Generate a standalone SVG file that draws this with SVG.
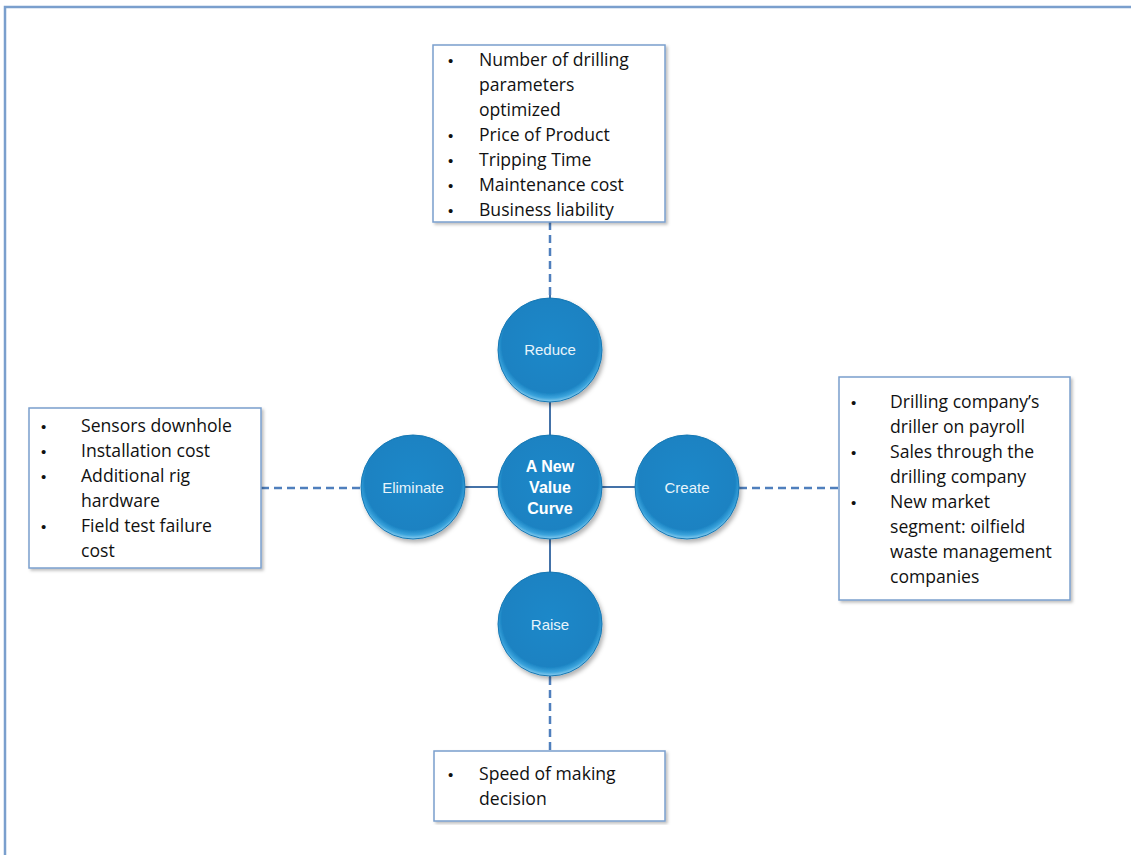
<svg xmlns="http://www.w3.org/2000/svg" width="1131" height="855" viewBox="0 0 1131 855">
<defs>
<radialGradient id="ball" cx="50%" cy="45%" r="55%">
<stop offset="0%" stop-color="#1e88c9"/>
<stop offset="84%" stop-color="#1a82c2"/>
<stop offset="93%" stop-color="#3aa3dc"/>
<stop offset="100%" stop-color="#8fd0f0"/>
</radialGradient>
<filter id="sh" x="-20%" y="-20%" width="140%" height="140%">
<feDropShadow dx="2" dy="3" stdDeviation="2" flood-color="#000" flood-opacity="0.3"/>
</filter>
<filter id="bsh" x="-5%" y="-5%" width="110%" height="110%">
<feDropShadow dx="2" dy="2" stdDeviation="1.5" flood-color="#000" flood-opacity="0.25"/>
</filter>
</defs>
<style>
.box{fill:#fff;stroke:#7a9fcd;stroke-width:1.5;filter:url(#bsh)}
.t{font-family:"Open Sans","Liberation Sans",sans-serif;font-size:17.6px;fill:#111}
.b{font-family:"Liberation Sans",sans-serif;font-size:15px;fill:#111}
.c{fill:url(#ball);stroke:#1677b3;stroke-width:1;filter:url(#sh)}
.cl{font-family:"Liberation Sans",Arial,sans-serif;font-size:15px;fill:#e8f4fb;text-anchor:middle}
.cb{font-family:"Liberation Sans",Arial,sans-serif;font-size:16px;font-weight:bold;fill:#fff;text-anchor:middle}
.solid{stroke:#4472a8;stroke-width:2;fill:none}
.dash{stroke:#4f7fbd;stroke-width:2.5;stroke-dasharray:8 5;fill:none}
</style>
<rect x="0" y="0" width="1131" height="855" fill="#fff"/>
<path d="M5 855 V7 H1131" fill="none" stroke="#7a9fcd" stroke-width="2.5"/>
<g id="connectors">
<line class="solid" x1="550" y1="290" x2="550" y2="680"/>
<line class="solid" x1="413" y1="487" x2="687" y2="487"/>
<line class="dash" x1="550" y1="222" x2="550" y2="297"/>
<line class="dash" x1="261" y1="488" x2="361" y2="488"/>
<line class="dash" x1="739" y1="488" x2="839" y2="488"/>
<line class="dash" x1="550" y1="677" x2="550" y2="751"/>
</g>
<g id="box-reduce">
<rect class="box" x="433" y="45" width="232" height="177"/>
<text class="b" x="448" y="66">•</text><text class="t" x="479" y="66">Number of drilling</text>
<text class="t" x="479" y="91">parameters</text>
<text class="t" x="479" y="116">optimized</text>
<text class="b" x="448" y="141">•</text><text class="t" x="479" y="141">Price of Product</text>
<text class="b" x="448" y="166">•</text><text class="t" x="479" y="166">Tripping Time</text>
<text class="b" x="448" y="191">•</text><text class="t" x="479" y="191">Maintenance cost</text>
<text class="b" x="448" y="216">•</text><text class="t" x="479" y="216">Business liability</text>
</g>
<g id="box-eliminate">
<rect class="box" x="29" y="408" width="232" height="160"/>
<text class="b" x="41" y="432">•</text><text class="t" x="81" y="432">Sensors downhole</text>
<text class="b" x="41" y="457">•</text><text class="t" x="81" y="457">Installation cost</text>
<text class="b" x="41" y="482">•</text><text class="t" x="81" y="482">Additional rig</text>
<text class="t" x="81" y="507">hardware</text>
<text class="b" x="41" y="532">•</text><text class="t" x="81" y="532">Field test failure</text>
<text class="t" x="81" y="557">cost</text>
</g>
<g id="box-create">
<rect class="box" x="839" y="377" width="231" height="223"/>
<text class="b" x="851" y="408">•</text><text class="t" x="890" y="408">Drilling company’s</text>
<text class="t" x="890" y="433">driller on payroll</text>
<text class="b" x="851" y="458">•</text><text class="t" x="890" y="458">Sales through the</text>
<text class="t" x="890" y="483">drilling company</text>
<text class="b" x="851" y="508">•</text><text class="t" x="890" y="508">New market</text>
<text class="t" x="890" y="533">segment: oilfield</text>
<text class="t" x="890" y="558">waste management</text>
<text class="t" x="890" y="583">companies</text>
</g>
<g id="box-raise">
<rect class="box" x="434" y="751" width="231" height="70"/>
<text class="b" x="448" y="780">•</text><text class="t" x="479" y="780">Speed of making</text>
<text class="t" x="479" y="805">decision</text>
</g>
<g id="node-reduce">
<circle class="c" cx="550" cy="350" r="52"/>
<text class="cl" x="550" y="355">Reduce</text>
</g>
<g id="node-eliminate">
<circle class="c" cx="413" cy="487" r="52"/>
<text class="cl" x="413" y="493">Eliminate</text>
</g>
<g id="node-create">
<circle class="c" cx="687" cy="487" r="52"/>
<text class="cl" x="687" y="493">Create</text>
</g>
<g id="node-raise">
<circle class="c" cx="550" cy="624" r="52"/>
<text class="cl" x="550" y="630">Raise</text>
</g>
<g id="node-center">
<circle class="c" cx="550" cy="487" r="52"/>
<text class="cb" x="550" y="472">A New</text>
<text class="cb" x="550" y="493">Value</text>
<text class="cb" x="550" y="514">Curve</text>
</g>
</svg>
